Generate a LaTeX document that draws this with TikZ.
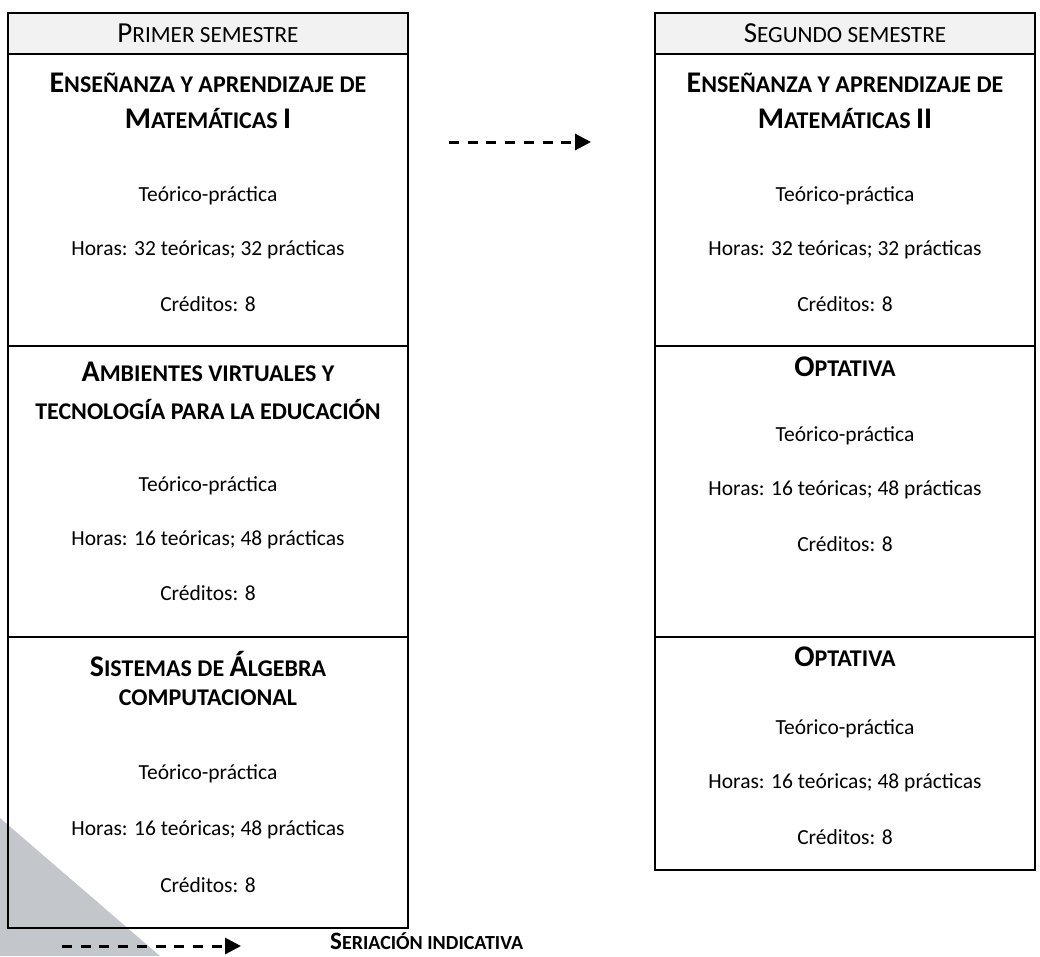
\documentclass[tikz,border=0pt]{standalone}
\usepackage{fontspec}
\setmainfont{Carlito}
\usetikzlibrary{arrows.meta}
\definecolor{hdrgray}{HTML}{F2F2F2}
\definecolor{trigray}{HTML}{C3C6CA}
\newcommand{\tB}[1]{{\fontsize{30}{30}\selectfont\bfseries #1}}
\newcommand{\tS}[1]{{\fontsize{24}{24}\selectfont\bfseries #1}}
\newcommand{\hB}[1]{{\fontsize{29}{29}\selectfont #1}}
\newcommand{\hS}[1]{{\fontsize{23.2}{23.2}\selectfont #1}}
\newcommand{\lB}[1]{{\fontsize{25}{25}\selectfont\bfseries #1}}
\newcommand{\lS}[1]{{\fontsize{20}{20}\selectfont\bfseries #1}}
\tikzset{
  cell/.style={draw=black, line width=2.6pt},
  hdr/.style={draw=black, line width=2.6pt, fill=hdrgray},
  body/.style={font=\fontsize{21.5}{21.5}\selectfont, inner sep=0pt, anchor=center},
  ttl/.style={inner sep=0pt, anchor=center},
  seri/.style={line width=3pt, dash pattern=on 10pt off 8.7pt, -{Triangle[length=16pt,width=16pt]}}
}
\begin{document}
\begin{tikzpicture}[x=1pt,y=-1pt]
\useasboundingbox (0,0) rectangle (1040,956);
% gray decorative triangle
\fill[trigray] (0,818) -- (0,956) -- (160,956) -- cycle;
% ---------- left column ----------
\path[hdr] (8,13) rectangle (408,54);
\node[ttl] (hL) at (208,33) {\hB{P}\hS{RIMER SEMESTRE}};
\path[cell] (8,54) rectangle (408,346);
\path[cell] (8,346) rectangle (408,637);
\path[cell] (8,637) rectangle (408,928);
% section 1
\node[ttl] (L1a) at (208,83) {\tB{E}\tS{NSEÑANZA Y APRENDIZAJE DE}};
\node[ttl] (L1b) at (208,118) {\tB{M}\tS{ATEMÁTICAS }\tB{I}};
\node[body] (L1c) at (208,196) {Teórico-práctica};
\node[body] (L1d) at (208,250) {Horas: 32 teóricas; 32 prácticas};
\node[body] (L1e) at (208,304) {Créditos: 8};
% section 2
\node[ttl] (L2a) at (208,372) {\tB{A}\tS{MBIENTES VIRTUALES Y}};
\node[ttl] (L2b) at (208,410) {\tS{TECNOLOGÍA PARA LA EDUCACIÓN}};
\node[body] (L2c) at (208,486) {Teórico-práctica};
\node[body] (L2d) at (208,540) {Horas: 16 teóricas; 48 prácticas};
\node[body] (L2e) at (208,593) {Créditos: 8};
% section 3
\node[ttl] (L3a) at (208,664) {\tB{S}\tS{ISTEMAS DE }\tB{Á}\tS{LGEBRA}};
\node[ttl] (L3b) at (208,698) {\tS{COMPUTACIONAL}};
\node[body] (L3c) at (208,774) {Teórico-práctica};
\node[body] (L3d) at (208,830) {Horas: 16 teóricas; 48 prácticas};
\node[body] (L3e) at (208,885) {Créditos: 8};
% ---------- right column ----------
\path[hdr] (655,13) rectangle (1035,54);
\node[ttl] (hR) at (845,33) {\hB{S}\hS{EGUNDO SEMESTRE}};
\path[cell] (655,54) rectangle (1035,346);
\path[cell] (655,346) rectangle (1035,637);
\path[cell] (655,637) rectangle (1035,870);
% section 1
\node[ttl] (R1a) at (845,83) {\tB{E}\tS{NSEÑANZA Y APRENDIZAJE DE}};
\node[ttl] (R1b) at (845,118) {\tB{M}\tS{ATEMÁTICAS }\tB{II}};
\node[body] (R1c) at (845,196) {Teórico-práctica};
\node[body] (R1d) at (845,250) {Horas: 32 teóricas; 32 prácticas};
\node[body] (R1e) at (845,304) {Créditos: 8};
% section 2
\node[ttl] (R2a) at (845,367) {\tB{O}\tS{PTATIVA}};
\node[body] (R2c) at (845,436) {Teórico-práctica};
\node[body] (R2d) at (845,490) {Horas: 16 teóricas; 48 prácticas};
\node[body] (R2e) at (845,544) {Créditos: 8};
% section 3
\node[ttl] (R3a) at (845,657) {\tB{O}\tS{PTATIVA}};
\node[body] (R3c) at (845,729) {Teórico-práctica};
\node[body] (R3d) at (845,783) {Horas: 16 teóricas; 48 prácticas};
\node[body] (R3e) at (845,837) {Créditos: 8};
% ---------- arrows ----------
\coordinate (m1) at (449,142);
\coordinate (m2) at (591,142);
\draw[seri] (m1) -- (m2);
\coordinate (g1) at (62,946);
\coordinate (g2) at (241,946);
\draw[seri] (g1) -- (g2);
\node[ttl, anchor=west] (leg) at (330,941) {\lB{S}\lS{ERIACIÓN INDICATIVA}};
\end{tikzpicture}
\end{document}
